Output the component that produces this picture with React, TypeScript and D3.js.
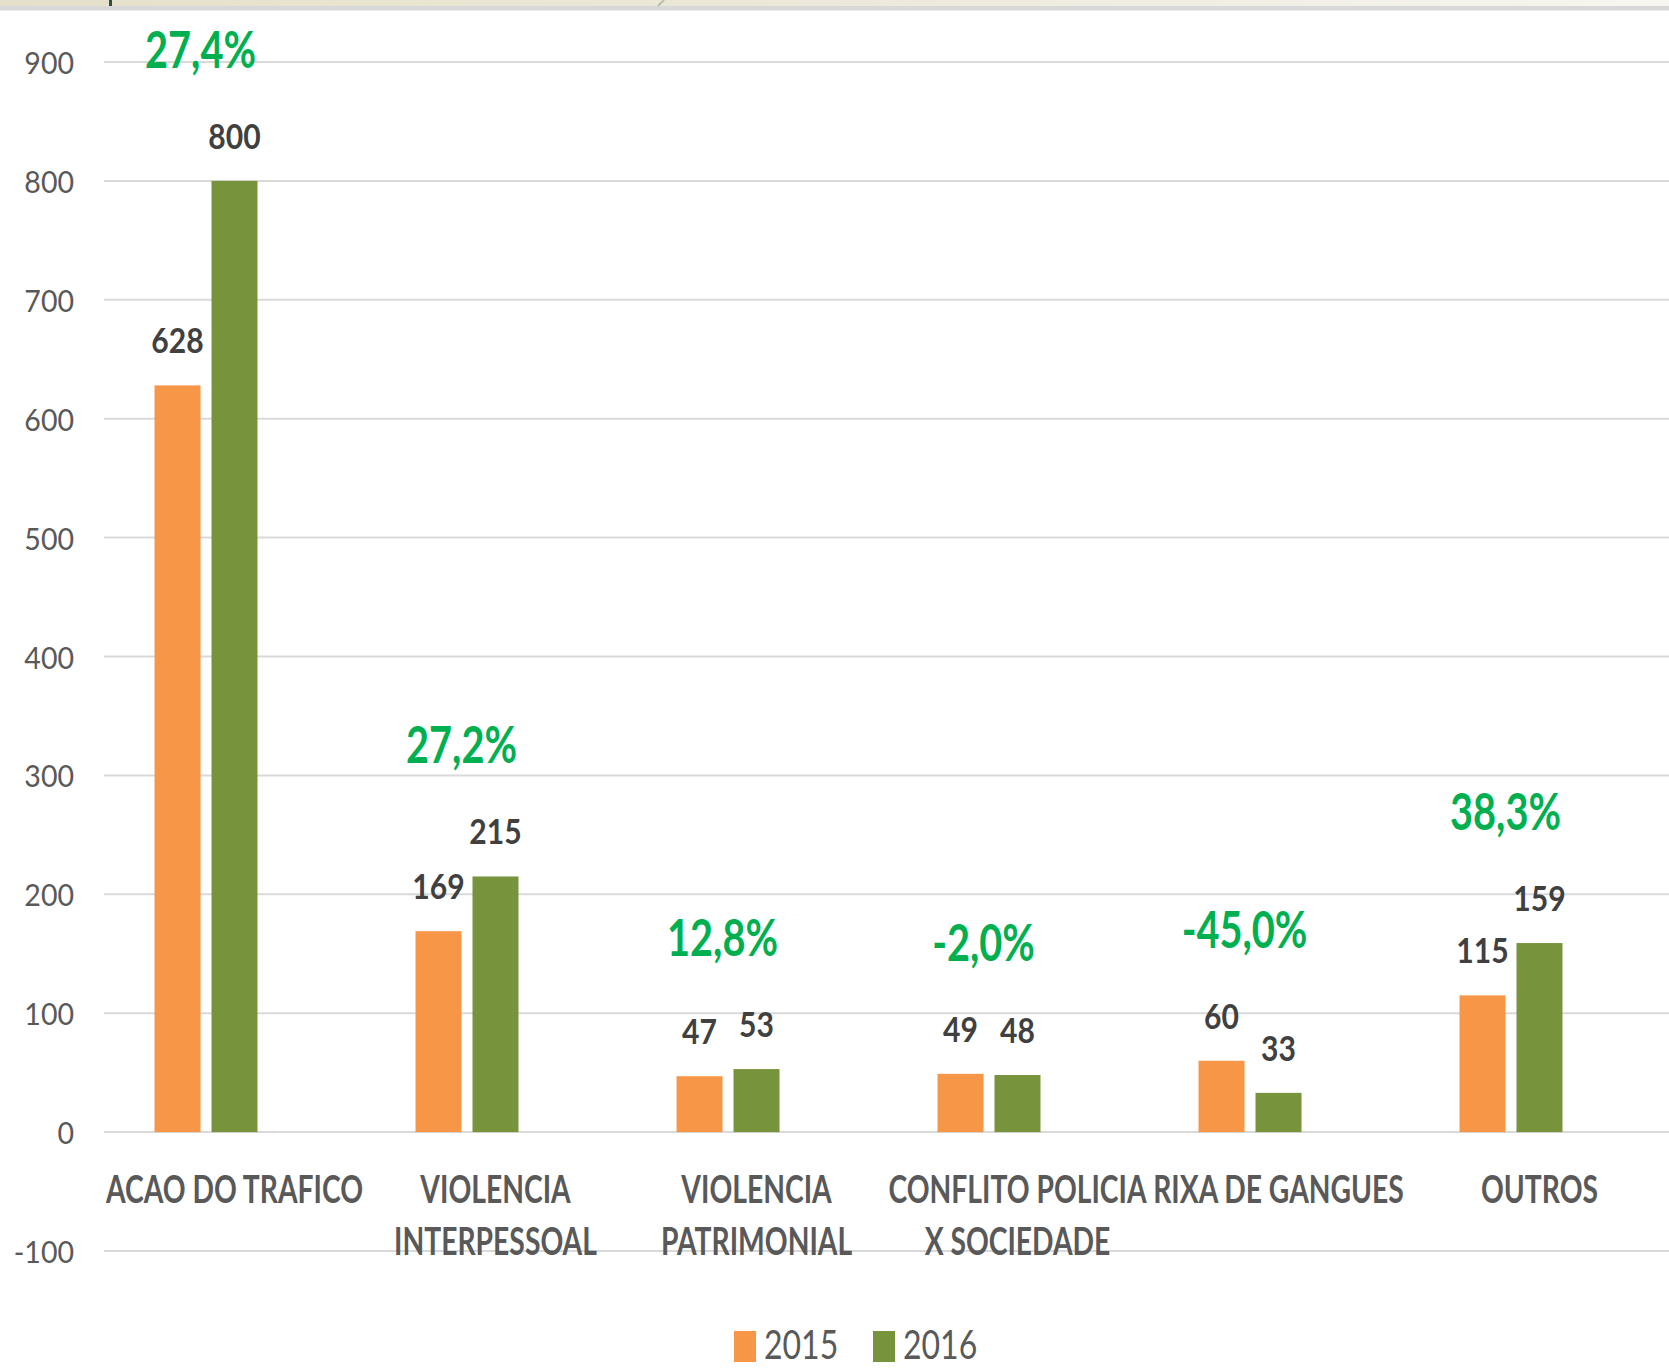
import React from "react";
import * as d3 from "d3";

const categories = [
  "ACAO DO TRAFICO",
  "VIOLENCIA\nINTERPESSOAL",
  "VIOLENCIA\nPATRIMONIAL",
  "CONFLITO POLICIA\nX SOCIEDADE",
  "RIXA DE GANGUES",
  "OUTROS",
];
const values2015 = [628, 169, 47, 49, 60, 115];
const values2016 = [800, 215, 53, 48, 33, 159];
const seriesNames = ["2015", "2016"];
const yTicks = [-100, 0, 100, 200, 300, 400, 500, 600, 700, 800, 900];

const W = 1669;
const H = 1369;
const FONT = "Lato, 'Open Sans', sans-serif";
const ORANGE = "#F79646";
const GREEN = "#77933C";
const PCT_GREEN = "#00B050";

function T({ x, y, sx = 1, children, ...rest }: any) {
  return (
    <text transform={`translate(${x},${y}) scale(${sx},1)`} {...rest}>
      {children}
    </text>
  );
}

export default function App() {
  const y = d3.scaleLinear().domain([-100, 900]).range([1251, 62]);
  const x0 = d3
    .scaleBand<string>()
    .domain(categories)
    .range([104, 1670])
    .paddingInner(0.345)
    .paddingOuter(0.1725);
  const x1 = d3
    .scaleBand<string>()
    .domain([...seriesNames, "pct"])
    .range([0, x0.bandwidth()])
    .paddingInner(11 / 57)
    .paddingOuter(11 / 114);
  const color = d3.scaleOrdinal<string, string>().domain(seriesNames).range([ORANGE, GREEN]);
  const fmtPct = (a: number, b: number) =>
    (((b - a) / a) * 100).toFixed(1).replace(".", ",") + "%";

  const series = [values2015, values2016];

  return (
    <svg width={W} height={H} style={{ display: "block", position: "absolute", left: 0, top: 0 }}>
      <defs>
        <linearGradient id="topbar" x1="0" x2="1" y1="0" y2="0">
          <stop offset="0" stopColor="#e5e0cb" />
          <stop offset="0.5" stopColor="#ece9da" />
          <stop offset="1" stopColor="#f7f6f0" />
        </linearGradient>
      </defs>
      <rect x={0} y={0} width={W} height={H} fill="#fff" />
      {/* top strip */}
      <rect x={0} y={0} width={W} height={6} fill="url(#topbar)" />
      <rect x={0} y={6} width={W} height={4} fill="#d8d8d8" />
      <rect x={0} y={10} width={W} height={1} fill="#ececec" />
      <rect x={109} y={0} width={3} height={6} fill="#2f4f3f" />
      <line x1={658} y1={6} x2={664} y2={0} stroke="#b7bfa8" strokeWidth={2} />

      {/* gridlines */}
      {yTicks.map((t) => (
        <line key={"g" + t} x1={104} x2={W} y1={y(t)} y2={y(t)} stroke="#d9d9d9" strokeWidth={2} />
      ))}
      {/* y tick labels */}
      {yTicks.map((t) => (
        <T
          key={"t" + t}
          x={74}
          y={y(t) + 12}
          sx={0.93}
          textAnchor="end"
          fontFamily={FONT}
          fontSize={30.7}
          fill="#595959"
        >
          {String(t)}
        </T>
      ))}

      {/* bars */}
      {categories.map((c, i) =>
        seriesNames.map((s, j) => {
          const v = series[j][i];
          const bx = (x0(c) as number) + (x1(s) as number);
          return (
            <g key={c + s}>
              <rect x={bx} y={y(v)} width={x1.bandwidth()} height={y(0) - y(v)} fill={color(s)} />
              <T
                x={bx + x1.bandwidth() / 2}
                y={y(v) - 32}
                sx={0.86}
                textAnchor="middle"
                fontFamily={FONT}
                fontWeight={700}
                fontSize={35}
                fill="#404040"
              >
                {v}
              </T>
            </g>
          );
        })
      )}

      {/* percent change labels */}
      {categories.map((c, i) => {
        const a = values2015[i];
        const b = values2016[i];
        const cx = (x0(c) as number) + (x1("2016") as number) - 11;
        return (
          <T
            key={"p" + c}
            x={cx}
            y={y(Math.max(a, b)) - 113}
            sx={0.77}
            textAnchor="middle"
            fontFamily={FONT}
            fontWeight={700}
            fontSize={51.6}
            fill={PCT_GREEN}
          >
            {fmtPct(a, b)}
          </T>
        );
      })}

      {/* category labels */}
      {categories.map((c) => {
        const cx = (x0(c) as number) + x0.bandwidth() / 2;
        return c.split("\n").map((line, k) => (
          <T
            key={c + k}
            x={cx}
            y={1203 + k * 52}
            sx={0.75}
            textAnchor="middle"
            fontFamily={FONT}
            fontWeight={700}
            fontSize={37.7}
            fill="#595959"
          >
            {line}
          </T>
        ));
      })}

      {/* legend */}
      {seriesNames.map((s, j) => (
        <g key={"l" + s}>
          <rect x={734 + j * 139} y={1331} width={22} height={31} fill={color(s)} />
          <T
            x={764 + j * 139}
            y={1359}
            sx={0.8}
            fontFamily={FONT}
            fontSize={40}
            fill="#595959"
          >
            {s}
          </T>
        </g>
      ))}
    </svg>
  );
}
